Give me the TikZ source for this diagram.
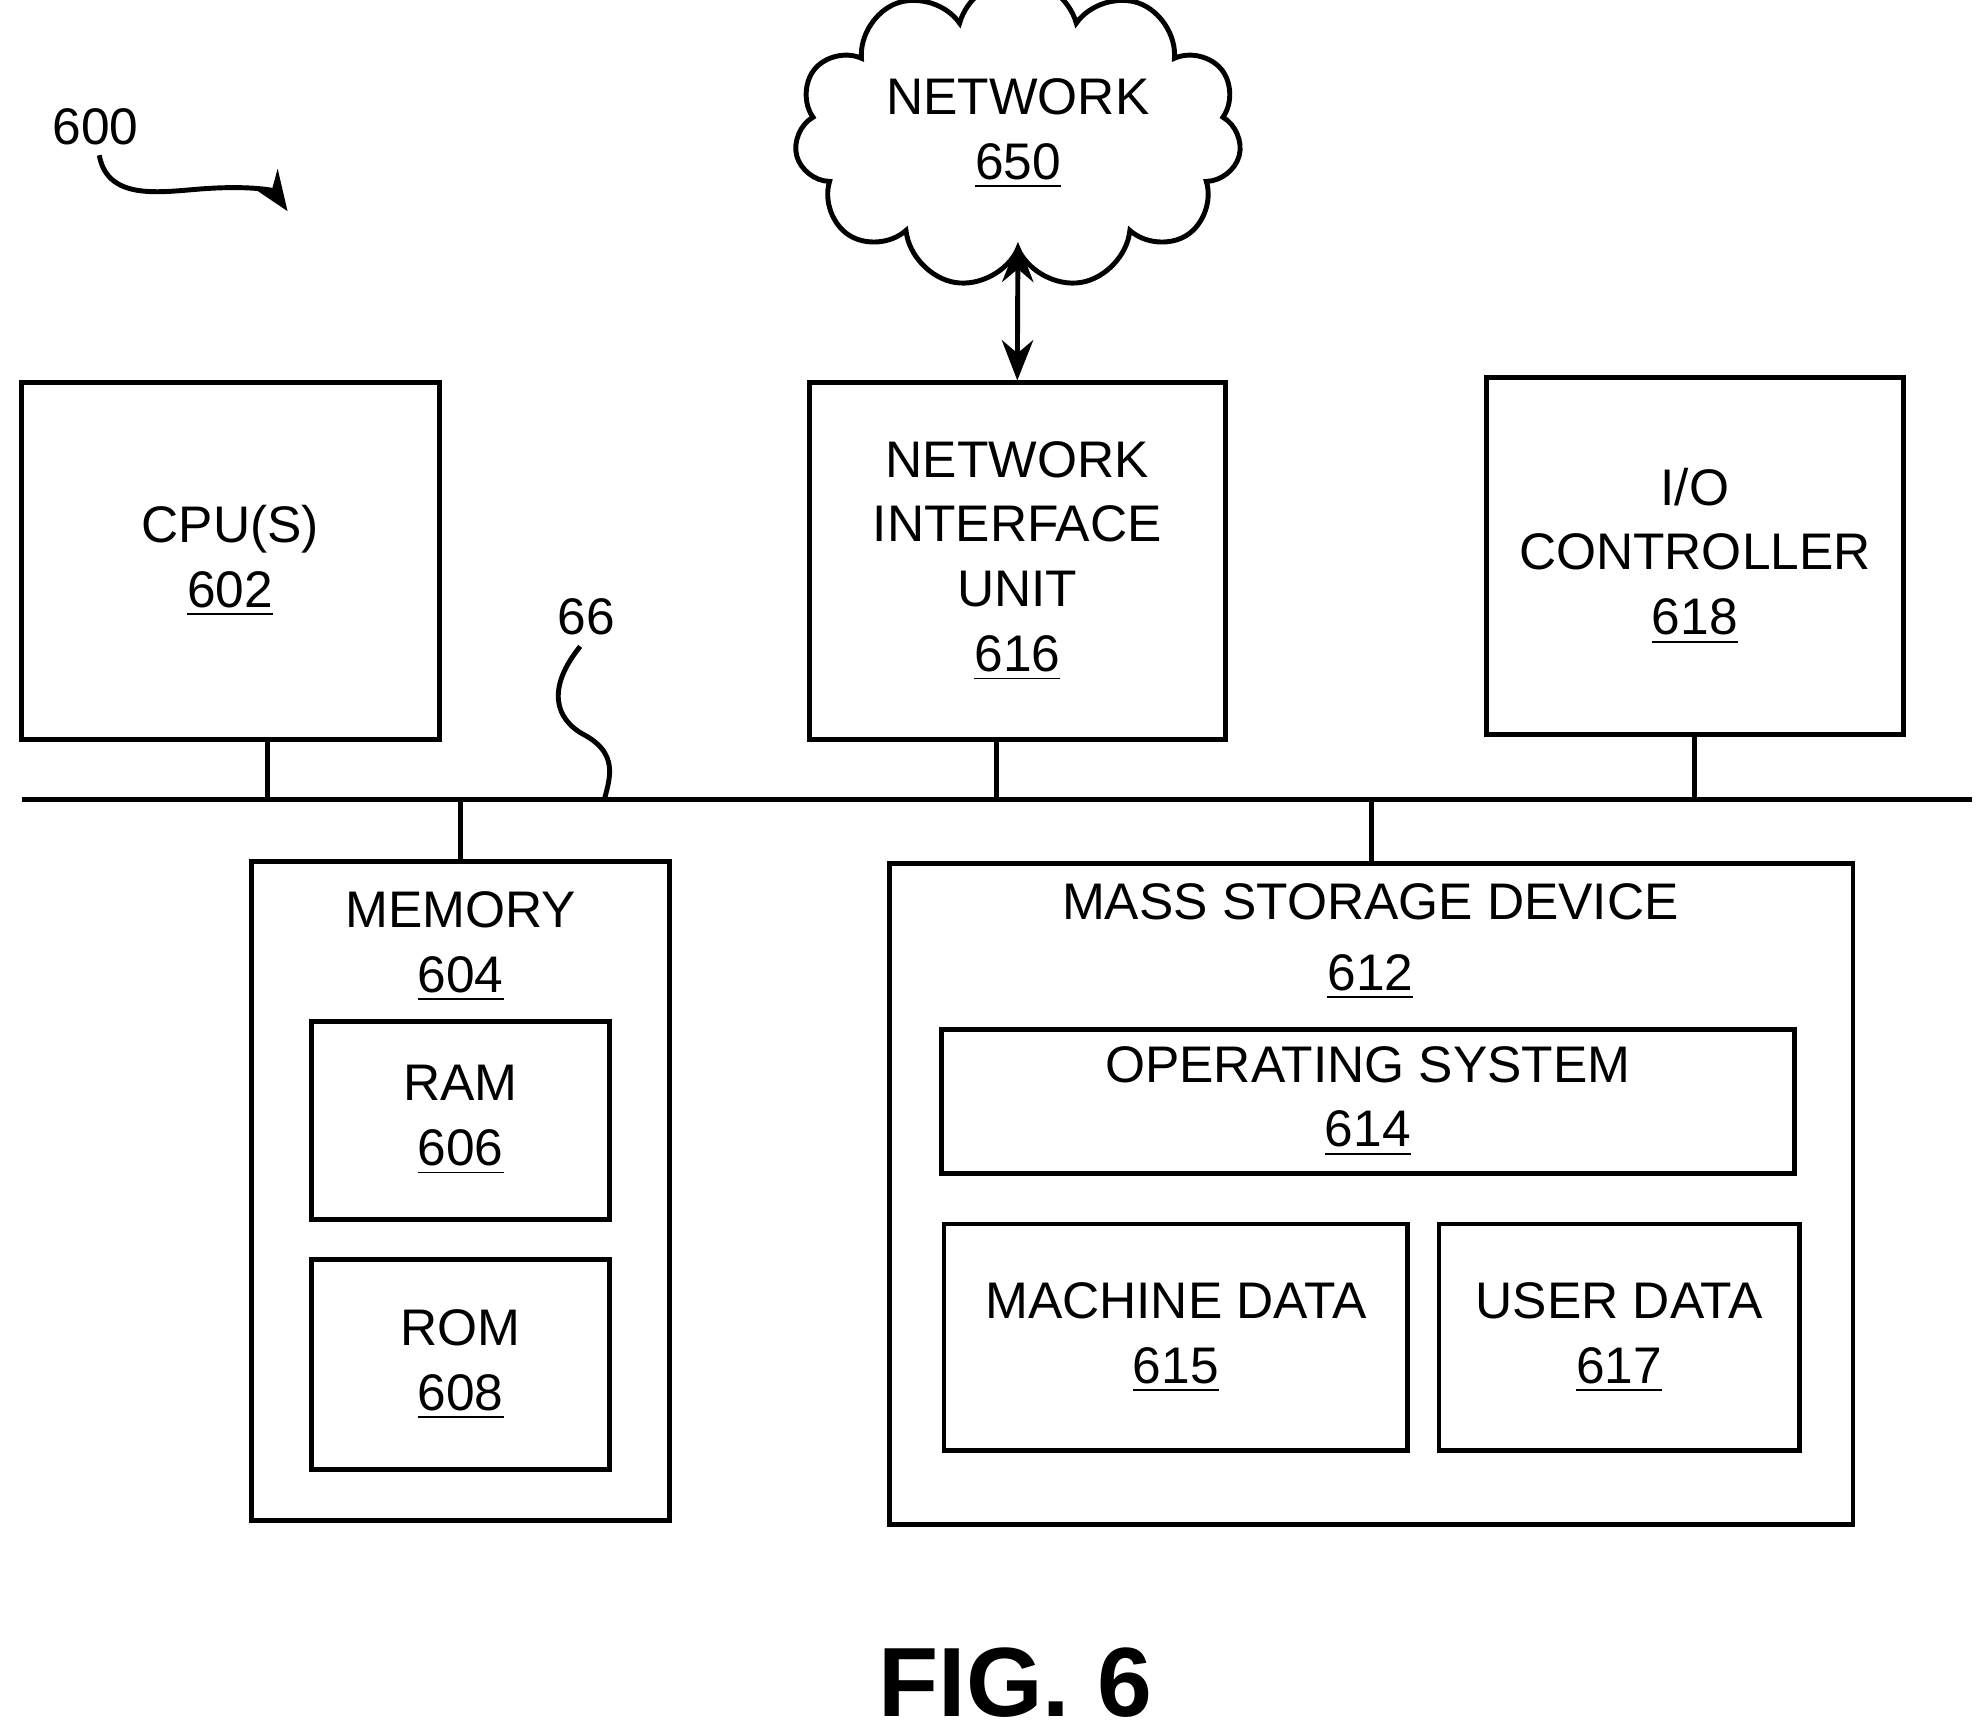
\documentclass[tikz,border=0pt]{standalone}
\usepackage{fontspec}
\setmainfont{Liberation Sans}
\usetikzlibrary{shapes.symbols,arrows.meta}
\newcommand{\refnum}[1]{\underline{#1}}
\begin{document}
\begin{tikzpicture}[x=0.01cm,y=-0.01cm,line width=1.1pt,
    box/.style={draw,rectangle,inner sep=0pt,align=center,font=\fontsize{11.5}{14.5}\selectfont},
    lbl/.style={align=center,font=\fontsize{11.5}{14.5}\selectfont}]
        \useasboundingbox (0,0) rectangle (1560,1360);

        % top row
        \node[box,minimum width=3.28cm,minimum height=2.8cm] (cpu) at (181,441){CPU(S)\\\refnum{602}};
        \node[box,minimum width=3.27cm,minimum height=2.8cm] (niu) at (799.5,441){NETWORK\\INTERFACE\\UNIT\\\refnum{616}};
        \node[box,minimum width=3.28cm,minimum height=2.8cm] (io) at (1332,437){I/O\\CONTROLLER\\\refnum{618}};
        \node[cloud,draw,cloud puffs=11,aspect=1.8,minimum width=3.3cm,minimum height=1.8cm,lbl] (net) at (800,105){NETWORK\\\refnum{650}};
        \draw[{Stealth[length=9pt,width=7pt]}-{Stealth[length=9pt,width=7pt]}] (800,190)--(niu.north);

        % bus
        \coordinate (busl) at (17,628);
        \coordinate (busr) at (1550,628);
        \draw (busl)--(busr);
        \draw (210,581)--(210,628);
        \draw (783,581)--(783,628);
        \draw (1332,577)--(1332,628);
        \draw (362,628)--(362,677);
        \draw (1078,628)--(1078,679);

        % memory
        \node[box,minimum width=3.28cm,minimum height=5.18cm] (mem) at (362,936){};
        \node[lbl] (memt) at (362,744){MEMORY\\\refnum{604}};
        \node[box,minimum width=2.34cm,minimum height=1.55cm] (ram) at (362,880.5){RAM\\\refnum{606}};
        \node[box,minimum width=2.34cm,minimum height=1.65cm] (rom) at (362,1072.5){ROM\\\refnum{608}};

        % mass storage
        \node[box,minimum width=7.57cm,minimum height=5.19cm] (mass) at (1077.5,938.5){};
        \node[lbl] (masst) at (1077,709){MASS STORAGE DEVICE};
        \node[lbl] (massn) at (1077,768){\refnum{612}};
        \node[box,minimum width=6.7cm,minimum height=1.13cm] (os) at (1075,865.5){OPERATING SYSTEM\\\refnum{614}};
        \node[box,minimum width=3.64cm,minimum height=1.78cm] (mach) at (924,1051){MACHINE DATA\\\refnum{615}};
        \node[box,minimum width=2.83cm,minimum height=1.78cm] (user) at (1272.5,1051){USER DATA\\\refnum{617}};

        % reference labels
        \node[lbl] (r600) at (75,100){600};
        \draw[-{Stealth[length=9pt,width=7pt]}] (78,122) .. controls (85,160) and (130,150) .. (165,148) .. controls (200,146) and (215,150) .. (226,166);
        \node[lbl] (r66) at (461,485){66};
        \draw (456,508) .. controls (430,540) and (435,565) .. (460,578) .. controls (485,592) and (480,610) .. (475,628);

        \node[font=\fontsize{22}{26}\selectfont\bfseries] (fig) at (798,1322){FIG. 6};
    \end{tikzpicture}
\end{document}
